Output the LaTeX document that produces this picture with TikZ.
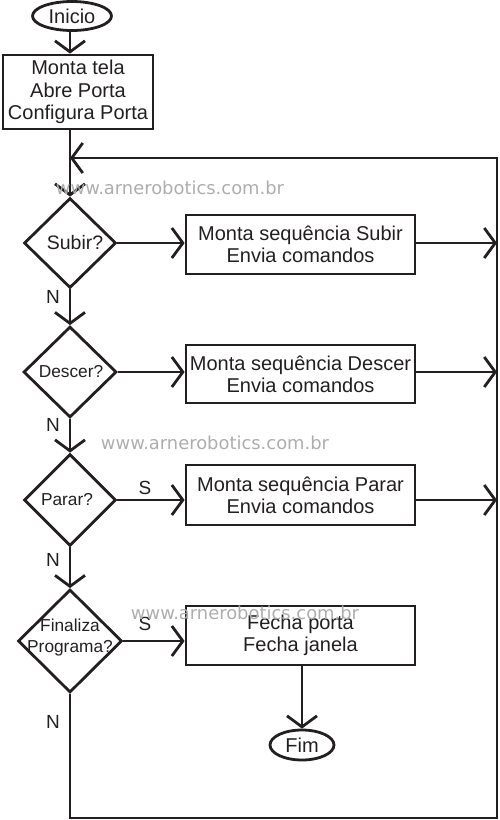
\documentclass[tikz,border=0pt]{standalone}
\usepackage{fontspec}
\setmainfont{Liberation Sans}
\newfontfamily\wmfont{DejaVu Sans}
\usetikzlibrary{shapes.geometric,arrows.meta}
\definecolor{ink}{HTML}{231F20}
\begin{document}
\begin{tikzpicture}[x=1pt,y=-1pt,line width=2.8pt,color=ink,
  proc/.style={draw,rectangle,minimum width=229pt,minimum height=59pt,inner sep=0pt,align=center,font=\fontsize{20}{22}\selectfont},
  term/.style={draw,ellipse,inner sep=0pt,font=\fontsize{20}{22}\selectfont},
  dec/.style={draw,diamond,inner sep=0pt},
  dtext/.style={inner sep=0pt,align=center,font=\fontsize{17.3}{21}\selectfont},
  arr/.style={-{Straight Barb[length=11pt,width=30pt]}},
  lbl/.style={inner sep=0pt,font=\fontsize{19}{22}\selectfont},
  wm/.style={inner sep=0pt,text=black!32,font=\wmfont\fontsize{17.9}{20}\selectfont}]
\useasboundingbox (0,0) rectangle (500,820);

\node[term,minimum width=79pt,minimum height=29pt] (ini) at (72,16) {Inicio};
\node[draw,rectangle,minimum width=150pt,minimum height=74pt,inner sep=0pt,align=center,
      font=\fontsize{20}{22.5}\selectfont] (b0) at (78,92) {Monta tela\\Abre Porta\\Configura Porta};
\coordinate (j) at (70,158);
\coordinate (rr) at (497,158);
\coordinate (bl) at (70,818);
\coordinate (br) at (497,818);

\node[dec,minimum width=92pt,minimum height=90pt] (d1) at (70,243) {};
\node[dtext,font=\fontsize{19.5}{22}\selectfont] (d1t) at (75,243) {Subir?};
\node[proc] (r1) at (300.5,244.5) {Monta sequência Subir\\Envia comandos};

\node[dec,minimum width=93pt,minimum height=91pt] (d2) at (70,372) {};
\node[dtext] (d2t) at (71,372) {Descer?};
\node[proc,minimum height=58pt] (r2) at (300.5,374) {Monta sequência Descer\\Envia comandos};

\node[dec,minimum width=92pt,minimum height=92pt] (d3) at (70,500) {};
\node[dtext] (d3t) at (67,500) {Parar?};
\node[proc,minimum height=60pt] (r3) at (300.5,495) {Monta sequência Parar\\Envia comandos};

\node[dec,minimum width=104pt,minimum height=103pt] (d4) at (70,641) {};
\node[dtext] (d4t) at (70,638) {Finaliza\\Programa?};
\node[proc] (r4) at (300.5,635.5) {Fecha porta\\Fecha janela};
\node[term,minimum width=64pt,minimum height=30pt] (fim) at (302,745) {Fim};

% connectors
\draw[arr] (ini.south -| d1) -- (b0.north -| d1);
\draw[arr] (b0.south -| d1) -- (d1.north);
\draw[arr] (d1.south) -- (d2.north);
\draw[arr] (d2.south) -- (d3.north);
\draw[arr] (d3.south) -- (d4.north);
\draw[arr] (d1.east) -- (r1.west |- d1.east);
\draw[arr] (d2.east) -- (r2.west |- d2.east);
\draw[arr] (d3.east) -- (r3.west |- d3.east);
\draw[arr] (d4.east) -- (r4.west |- d4.east);
\draw[arr] (r1.east |- d1.east) -- (rr |- d1.east);
\draw[arr] (r2.east |- d2.east) -- (rr |- d2.east);
\draw[arr] (r3.east |- d3.east) -- (rr |- d3.east);
\draw[arr] (r4.south -| fim) -- (fim.north);
\draw[arr] (d4.south) -- (bl) -- (br) -- (rr) -- (j);

% labels
\node[lbl] (n1) at (53,297) {N};
\node[lbl] (n2) at (53,425) {N};
\node[lbl] (n3) at (53,560) {N};
\node[lbl] (n4) at (53,722) {N};
\node[lbl] (s3) at (145,488) {S};
\node[lbl] (s4) at (145,624) {S};

% watermark
\node[wm] (w1) at (170,188) {www.arnerobotics.com.br};
\node[wm] (w2) at (215,443) {www.arnerobotics.com.br};
\node[wm] (w3) at (245,613) {www.arnerobotics.com.br};
\end{tikzpicture}
\end{document}
